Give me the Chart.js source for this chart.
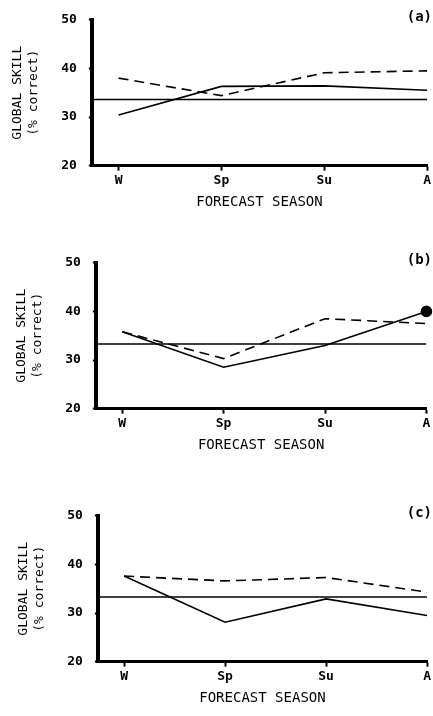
<!DOCTYPE html>
<html>
<head>
<meta charset="utf-8">
<script src="https://cdn.jsdelivr.net/npm/chart.js@4.4.0/dist/chart.umd.min.js"></script>
<style>
    body { margin: 0; background: #fff; }
    .painel { position: absolute; }
</style>
</head>
<body>
<div class="painel" style="left:0;top:0"><canvas id="graficoA" width="433" height="215"></canvas></div>
<div class="painel" style="left:4px;top:243px"><canvas id="graficoB" width="429" height="215"></canvas></div>
<div class="painel" style="left:6px;top:496px"><canvas id="graficoC" width="427" height="215"></canvas></div>
<script>
// dados
const estacoes = ['W', 'Sp', 'Su', 'A'];
const ticksY = [20, 30, 40, 50];
const rotulos = ['(a)', '(b)', '(c)'];

const acaso = [33.6, 33.3, 33.3];

const solidaA = [30.4, 36.3, 36.4, 35.5];
const tracejadaA = [38.0, 34.4, 39.1, 39.5];

const solidaB = [35.8, 28.5, 33.0, 40.0];
const tracejadaB = [35.8, 30.3, 38.5, 37.5];

const solidaC = [37.6, 28.1, 32.9, 29.5];
const tracejadaC = [37.6, 36.6, 37.3, 34.3];

const xMin = -0.26;
const fonteMono = "'DejaVu Sans Mono', 'Liberation Mono', monospace";

const pluginRotulo = {
    id: 'rotuloPainel',
    afterDraw(chart, args, opts) {
        const ctx = chart.ctx;
        ctx.save();
        ctx.font = "bold 14px " + fonteMono;
        ctx.fillStyle = '#000';
        ctx.textAlign = 'right';
        ctx.textBaseline = 'middle';
        ctx.fillText(opts.texto, chart.width - 1, chart.chartArea.top - 2);
        ctx.restore();
    }
};

function paraPontos(valores) {
    return valores.map((v, i) => ({ x: i, y: v }));
}

function plotarGrafico(id, solida, tracejada, nivel, rotulo, pontoFinal) {
    const ctx = document.getElementById(id);

    const data = {
        datasets: [
            {
                data: [{ x: xMin, y: nivel }, { x: estacoes.length - 1, y: nivel }],
                borderColor: '#000',
                borderWidth: 1.5,
                pointRadius: 0
            },
            {
                data: paraPontos(tracejada),
                borderColor: '#000',
                borderWidth: 1.6,
                borderDash: [10, 6],
                pointRadius: 0
            },
            {
                data: paraPontos(solida),
                borderColor: '#000',
                borderWidth: 1.6,
                clip: false,
                pointRadius: solida.map((v, i) => (pontoFinal && i == solida.length - 1) ? 5 : 0),
                pointBackgroundColor: '#000',
                pointBorderColor: '#000'
            }
        ]
    };

    const config = {
        type: 'line',
        data: data,
        options: {
            responsive: false,
            animation: false,
            layout: { padding: { top: 15, right: 5, left: 6 } },
            plugins: {
                legend: { display: false },
                tooltip: { enabled: false },
                rotuloPainel: { texto: rotulo }
            },
            scales: {
                x: {
                    type: 'linear',
                    min: xMin,
                    max: estacoes.length - 1,
                    afterBuildTicks: (eixo) => { eixo.ticks = estacoes.map((e, i) => ({ value: i })); },
                    ticks: {
                        callback: (v) => estacoes[v],
                        color: '#000',
                        font: { family: fonteMono, size: 13, weight: 'bold' },
                        padding: 2,
                        maxRotation: 0
                    },
                    grid: { drawOnChartArea: false, tickLength: 5, tickColor: '#000', tickWidth: 2 },
                    border: { color: '#000', width: 3 },
                    title: {
                        display: true,
                        text: 'FORECAST SEASON',
                        color: '#000',
                        font: { family: fonteMono, size: 14 },
                        padding: { top: 4 }
                    }
                },
                y: {
                    min: ticksY[0],
                    max: ticksY[ticksY.length - 1],
                    afterBuildTicks: (eixo) => { eixo.ticks = ticksY.map((t) => ({ value: t })); },
                    ticks: {
                        color: '#000',
                        font: { family: fonteMono, size: 13, weight: 'bold' },
                        padding: 12
                    },
                    grid: { drawOnChartArea: false, tickLength: 3, tickColor: '#000', tickWidth: 2 },
                    border: { color: '#000', width: 4 },
                    title: {
                        display: true,
                        text: ['GLOBAL SKILL', '(% correct)'],
                        color: '#000',
                        font: { family: fonteMono, size: 13, lineHeight: 1.2 },
                        padding: { bottom: 8 }
                    }
                }
            }
        },
        plugins: [pluginRotulo]
    };

    return new Chart(ctx, config);
}

plotarGrafico('graficoA', solidaA, tracejadaA, acaso[0], rotulos[0], false);
plotarGrafico('graficoB', solidaB, tracejadaB, acaso[1], rotulos[1], true);
plotarGrafico('graficoC', solidaC, tracejadaC, acaso[2], rotulos[2], false);
</script>
</body>
</html>
